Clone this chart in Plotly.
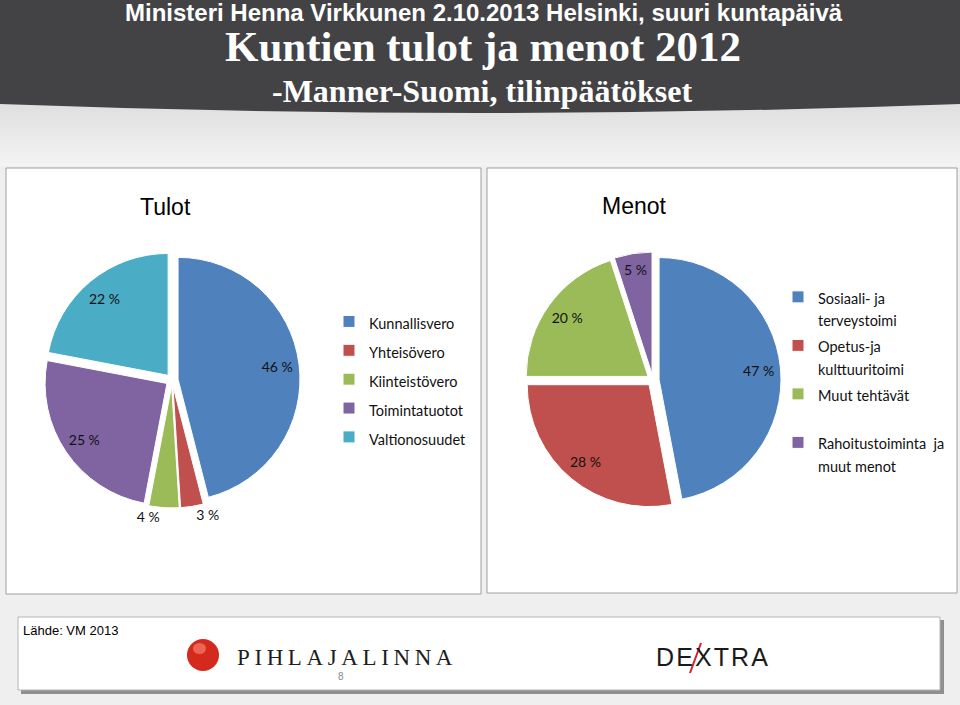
import plotly.graph_objects as go

W, H = 960, 705

# ---------------- data ----------------
tulot_title = "Tulot"
tulot_labels = ["Kunnallisvero", "Yhteisövero", "Kiinteistövero", "Toimintatuotot", "Valtionosuudet"]
tulot_values = [46, 3, 4, 25, 22]
tulot_colors = ["#4F81BD", "#C0504D", "#9BBB59", "#8064A2", "#4BACC6"]
tulot_textpos = ["inside", "outside", "outside", "inside", "inside"]

menot_title = "Menot"
menot_labels = [["Sosiaali- ja", "terveystoimi"], ["Opetus-ja", "kulttuuritoimi"],
                ["Muut tehtävät", "\u00a0"], ["Rahoitustoiminta\u00a0 ja", "muut menot"]]
menot_values = [47, 28, 20, 5]
menot_colors = ["#4F81BD", "#C0504D", "#9BBB59", "#8064A2"]
menot_textpos = ["inside", "inside", "inside", "inside"]

header_1 = "Ministeri Henna Virkkunen 2.10.2013 Helsinki, suuri kuntapäivä"
header_2 = "Kuntien tulot ja menot 2012"
header_3 = "-Manner-Suomi, tilinpäätökset"
source_text = "Lähde: VM 2013"


# ---------------- helpers ----------------
def X(px):
    return px / W


def Y(py):
    return 1 - py / H


def leg(lines, size=14.5):
    if isinstance(lines, str):
        lines = [lines]
    return "<br>".join("<span style='font-size:%spx'>%s</span>" % (size, l) for l in lines)


def dom(cx, cy, half):
    return dict(x=[X(cx - half), X(cx + half)], y=[Y(cy + half), Y(cy - half)])


LBL_FONT = "Lato, 'Noto Sans', sans-serif"
PULL = 0.05

fig = go.Figure()

# Tulot pie (colours + legend)
tul_dom = dom(172, 380, 128)
fig.add_trace(go.Pie(
    labels=[leg(l) for l in tulot_labels], values=tulot_values, sort=False,
    direction="clockwise", rotation=0, domain=tul_dom,
    marker=dict(colors=tulot_colors, line=dict(color="white", width=1)),
    pull=[PULL] * len(tulot_values), textinfo="none", hoverinfo="label+value",
    legend="legend", showlegend=True,
))
# Tulot labels (transparent ring so that text sits near the rim, like Excel)
fig.add_trace(go.Pie(
    labels=[leg(l) for l in tulot_labels], values=tulot_values, sort=False,
    direction="clockwise", rotation=0, domain=tul_dom, hole=0.64,
    marker=dict(colors=["rgba(0,0,0,0)"] * len(tulot_values), line=dict(width=0)),
    pull=[PULL] * len(tulot_values), texttemplate="%{value} %", textposition=tulot_textpos,
    insidetextorientation="horizontal",
    textfont=dict(family=LBL_FONT, size=14, color="#111111"),
    hoverinfo="skip", showlegend=False, legend="legend",
))

# Menot pie
men_dom = dom(653, 380, 128)
fig.add_trace(go.Pie(
    labels=[leg(l) for l in menot_labels], values=menot_values, sort=False,
    direction="clockwise", rotation=0, domain=men_dom,
    marker=dict(colors=menot_colors, line=dict(color="white", width=1)),
    pull=[PULL] * len(menot_values), textinfo="none", hoverinfo="label+value",
    legend="legend2", showlegend=True,
))
fig.add_trace(go.Pie(
    labels=[leg(l) for l in menot_labels], values=menot_values, sort=False,
    direction="clockwise", rotation=0, domain=men_dom, hole=0.64,
    marker=dict(colors=["rgba(0,0,0,0)"] * len(menot_values), line=dict(width=0)),
    pull=[PULL] * len(menot_values), texttemplate="%{value} %", textposition=menot_textpos,
    insidetextorientation="horizontal",
    textfont=dict(family=LBL_FONT, size=14, color="#111111"),
    hoverinfo="skip", showlegend=False, legend="legend2",
))

# ---------------- background shapes ----------------
shapes = []
# gradient under header
n = 22
for i in range(n):
    y0 = 100 + i * 3
    t = i / (n - 1)
    g = int(222 + (244 - 222) * t)
    shapes.append(dict(type="rect", xref="paper", yref="paper", layer="below",
                       x0=0, x1=1, y0=Y(y0 + 3), y1=Y(y0),
                       fillcolor="rgb(%d,%d,%d)" % (g, g, g), line=dict(width=0)))
# header band
hp = "M %f,%f L %f,%f L %f,%f Q %f,%f %f,%f Z" % (
    X(0), Y(0), X(960), Y(0), X(960), Y(104), X(480), Y(122), X(0), Y(104))
shapes.append(dict(type="path", xref="paper", yref="paper", layer="below", path=hp,
                   fillcolor="#434346", line=dict(width=0)))
# chart panels
for (x0, y0, x1, y1) in [(6, 168, 481, 594), (487, 168, 957, 593)]:
    shapes.append(dict(type="rect", xref="paper", yref="paper", layer="below",
                       x0=X(x0), x1=X(x1), y0=Y(y1), y1=Y(y0),
                       fillcolor="white", line=dict(color="#9f9f9f", width=1)))
# footer box (shadow + box)
shapes.append(dict(type="rect", xref="paper", yref="paper", layer="below",
                   x0=X(21), x1=X(944), y0=Y(694), y1=Y(620),
                   fillcolor="#8f8f8f", line=dict(width=0)))
shapes.append(dict(type="rect", xref="paper", yref="paper", layer="below",
                   x0=X(18), x1=X(940), y0=Y(690), y1=Y(617),
                   fillcolor="white", line=dict(color="#b5b5b5", width=1)))
# Pihlajalinna sphere
shapes.append(dict(type="circle", xref="paper", yref="paper", layer="below",
                   x0=X(187), x1=X(219), y0=Y(671), y1=Y(639),
                   fillcolor="#d42a1e", line=dict(width=0)))
shapes.append(dict(type="circle", xref="paper", yref="paper", layer="below",
                   x0=X(193), x1=X(206), y0=Y(654), y1=Y(643),
                   fillcolor="rgba(255,150,130,0.55)", line=dict(width=0)))
# Dextra red stroke
shapes.append(dict(type="line", xref="paper", yref="paper", layer="above",
                   x0=X(690), x1=X(701), y0=Y(673), y1=Y(643),
                   line=dict(color="#d0202a", width=2)))

# ---------------- annotations ----------------
ann = []


def A(text, x, y, size, family, color="white", xanchor="center", bold=False):
    ann.append(dict(text=("<b>%s</b>" % text) if bold else text, x=X(x), y=Y(y),
                    xref="paper", yref="paper", showarrow=False, xanchor=xanchor,
                    yanchor="middle", font=dict(size=size, family=family, color=color)))


A(header_1, 484, 12, 24, "'Liberation Sans Narrow', 'Liberation Sans', sans-serif", bold=True)
A(header_2, 483, 47, 43, "'Liberation Serif', serif", bold=True)
A(header_3, 482, 91, 32, "'Liberation Serif', serif", bold=True)
A(tulot_title, 165, 207, 23, "'Liberation Sans', Arial, sans-serif", color="black")
A(menot_title, 634, 206, 23, "'Liberation Sans', Arial, sans-serif", color="black")
A(source_text, 21, 630, 13, "'Liberation Sans Narrow', 'Liberation Sans', sans-serif",
  color="black", xanchor="left")
A("\u2009".join("PIHLAJALINNA"), 345, 657, 23, "'Liberation Serif', serif", color="#1e1e1e")
A("\u200a".join("DEXTRA"), 712, 657, 25, "'Liberation Sans', sans-serif", color="#1a1a1a")
A("8", 341, 676, 10, "'Liberation Sans', sans-serif", color="#8a8a8a")

fig.update_layout(
    width=W, height=H, margin=dict(l=0, r=0, t=0, b=0),
    paper_bgcolor="#efefef", plot_bgcolor="#efefef",
    shapes=shapes, annotations=ann,
    legend=dict(x=X(329), y=Y(302), xanchor="left", yanchor="top",
                font=dict(family=LBL_FONT, size=19.9, color="#111111"),
                bgcolor="rgba(0,0,0,0)", valign="top", traceorder="normal"),
    legend2=dict(x=X(778), y=Y(279), xanchor="left", yanchor="top",
                 font=dict(family=LBL_FONT, size=17.5, color="#111111"),
                 bgcolor="rgba(0,0,0,0)", valign="top", traceorder="normal"),
)

fig.write_html("out.html", config={"displayModeBar": False},
               post_script="document.body.style.margin='0';")
